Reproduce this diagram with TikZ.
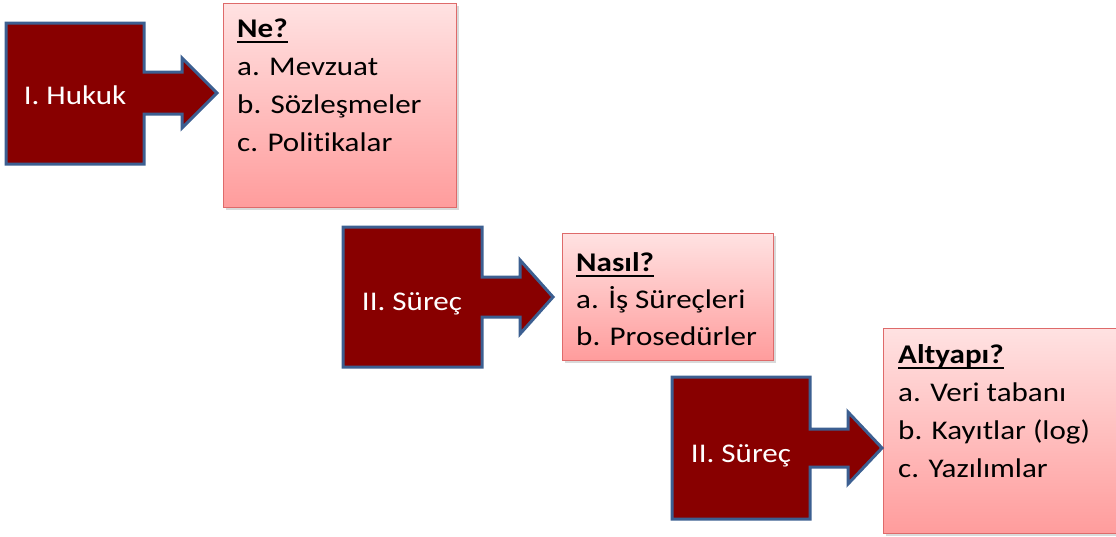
\documentclass[tikz,border=0pt]{standalone}
\usepackage{fontspec}
\setmainfont{Carlito}[FakeStretch=1.15,RawFeature={-liga;-dlig;-clig}]
\usetikzlibrary{shadows}
\definecolor{calfill}{HTML}{880000}
\definecolor{calline}{HTML}{3C5F91}
\definecolor{boxtop}{HTML}{FFE2E2}
\definecolor{boxbot}{HTML}{FF9C9C}
\definecolor{boxline}{HTML}{DE6A6A}
\newcommand\myul[1]{\setbox0\hbox{#1}\rlap{\vrule width \wd0 height -4pt depth 6pt}\box0}
\begin{document}
\begin{tikzpicture}[x=1pt,y=-1pt,
  callout/.style={fill=calfill,draw=calline,line width=3pt,line join=miter},
  infobox/.style={draw=boxline,line width=1pt,top color=boxtop,bottom color=boxbot,
    drop shadow={shadow xshift=2pt,shadow yshift=-2pt,opacity=0.3},
    anchor=north west,inner sep=0pt},
  calltext/.style={anchor=base,text=white,inner sep=0pt,font=\fontsize{27}{32}\selectfont},
  boxtext/.style={anchor=base west,inner sep=0pt,font=\fontsize{27}{32}\selectfont},
  boxhead/.style={boxtext,font=\fontsize{27}{32}\selectfont\bfseries}]
\useasboundingbox (0,0) rectangle (1116,536);
% info boxes
\node[infobox,minimum width=233pt,minimum height=204pt] (box1) at (223,3) {};
\node[infobox,minimum width=211pt,minimum height=127pt] (box2) at (562,233) {};
\node[infobox,minimum width=240pt,minimum height=205pt] (box3) at (883,328) {};
% callouts
\draw[callout] (6,23) -- (144,23) -- (144,72) -- (182,72) -- (182,58) -- (217,93)
  -- (182,128) -- (182,114) -- (144,114) -- (144,164) -- (6,164) -- cycle;
\draw[callout] (343,227) -- (482,227) -- (482,277) -- (520,277) -- (520,260) -- (553,297)
  -- (520,334) -- (520,317) -- (482,317) -- (482,367) -- (343,367) -- cycle;
\draw[callout] (672,377) -- (810,377) -- (810,429) -- (848,429) -- (848,412) -- (882,448)
  -- (848,484) -- (848,467) -- (810,467) -- (810,519) -- (672,519) -- cycle;
\node[calltext] (c1) at (75,104) {I. Hukuk};
\node[calltext] (c2) at (412,310) {II. Süreç};
\node[calltext] (c3) at (741,462) {II. Süreç};
% box texts
\node[boxhead] (t1h) at (237,37) {\myul{Ne?}};
\node[boxtext] (t1a) at (237,75) {a. Mevzuat};
\node[boxtext] (t1b) at (237,113) {b. Sözleşmeler};
\node[boxtext] (t1c) at (237,151) {c. Politikalar};
\node[boxhead] (t2h) at (576,271) {\myul{Nasıl?}};
\node[boxtext] (t2a) at (576,308) {a. İş Süreçleri};
\node[boxtext] (t2b) at (576,345) {b. Prosedürler};
\node[boxhead] (t3h) at (898,363) {\myul{Altyapı?}};
\node[boxtext] (t3a) at (898,401) {a. Veri tabanı};
\node[boxtext] (t3b) at (898,439) {b. Kayıtlar (log)};
\node[boxtext] (t3c) at (898,477) {c. Yazılımlar};
\end{tikzpicture}
\end{document}
